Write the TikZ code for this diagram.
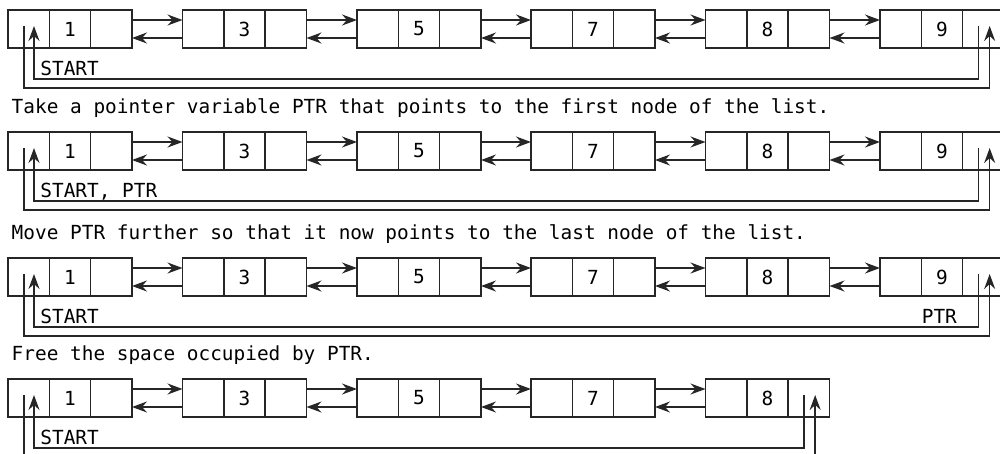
\documentclass[tikz,border=0pt]{standalone}
\usepackage{fontspec}
\setmonofont{DejaVu Sans Mono}
\usetikzlibrary{arrows.meta, positioning}
% one list node: prev cell, data cell, next cell
\newcommand{\lnode}[4]{%
  \node[cell,anchor=north west] (#1p) at (#2,#3) {};
  \node[cell,right=0pt of #1p] (#1d) {#4};
  \node[cell,right=0pt of #1d] (#1n) {};}
% next / prev links between two list nodes
\newcommand{\llink}[2]{%
  \draw[ar] ([yshift=-10pt]#1n.north east) -- ([yshift=-10pt]#2p.north west);
  \draw[ar] ([yshift=10pt]#2p.south west) -- ([yshift=10pt]#1n.south east);}
% wrap-around links between first and last list node
\newcommand{\lring}[3]{%
  \coordinate (#1a) at ([xshift=16pt,yshift=-16pt]#2p.north west);
  \coordinate (#1b) at ([xshift=26pt,yshift=-16pt]#2p.north west);
  \coordinate (#1c) at ([xshift=16pt,yshift=-16pt]#3n.north west);
  \coordinate (#1d) at ([xshift=27pt,yshift=-16pt]#3n.north west);
  \coordinate (#1i) at ([yshift=-31pt]#1b |- #2p.south);
  \coordinate (#1o) at ([yshift=-40pt]#1a |- #2p.south);
  \draw[ar] (#1c) |- (#1i) -- (#1b);
  \draw[ar] (#1a) -- (#1o) -| (#1d);}

\begin{document}
\begin{tikzpicture}[x=1pt, y=1pt, line width=1.5pt]
\tikzset{
  cell/.style={rectangle,draw=black!85,minimum width=41.33pt,minimum height=38pt,inner sep=0pt,outer sep=0pt,font=\ttfamily\fontsize{19.4}{23}\selectfont},
  ar/.style={-{Stealth[length=15pt,width=11pt,inset=5pt]},draw=black!85},
  lab/.style={anchor=base west,inner sep=0pt,font=\ttfamily\fontsize{19.4}{23}\selectfont},
  captxt/.style={anchor=base west,inner sep=0pt,font=\ttfamily\fontsize{19.4}{23}\selectfont}
}
\useasboundingbox (0,0) rectangle (1000,-453);
\clip (0,0) rectangle (1000,-453);
% ---- row 1
\lnode{r1n1}{8}{-10}{1}
\lnode{r1n2}{182.5}{-10}{3}
\lnode{r1n3}{357}{-10}{5}
\lnode{r1n4}{531}{-10}{7}
\lnode{r1n5}{705.5}{-10}{8}
\lnode{r1n6}{880}{-10}{9}
\llink{r1n1}{r1n2} \llink{r1n2}{r1n3} \llink{r1n3}{r1n4}
\llink{r1n4}{r1n5} \llink{r1n5}{r1n6}
\lring{r1}{r1n1}{r1n6}
\node[lab] (r1s) at ([xshift=11pt,yshift=-27pt]r1n1p.south) {START};
\node[captxt] (c1) at (11,-113) {Take a pointer variable PTR that points to the first node of the list.};
% ---- row 2
\lnode{r2n1}{8}{-132}{1}
\lnode{r2n2}{182.5}{-132}{3}
\lnode{r2n3}{357}{-132}{5}
\lnode{r2n4}{531}{-132}{7}
\lnode{r2n5}{705.5}{-132}{8}
\lnode{r2n6}{880}{-132}{9}
\llink{r2n1}{r2n2} \llink{r2n2}{r2n3} \llink{r2n3}{r2n4}
\llink{r2n4}{r2n5} \llink{r2n5}{r2n6}
\lring{r2}{r2n1}{r2n6}
\node[lab] (r2s) at ([xshift=11pt,yshift=-27pt]r2n1p.south) {START, PTR};
\node[captxt] (c2) at (11,-239) {Move PTR further so that it now points to the last node of the list.};
% ---- row 3
\lnode{r3n1}{8}{-258}{1}
\lnode{r3n2}{182.5}{-258}{3}
\lnode{r3n3}{357}{-258}{5}
\lnode{r3n4}{531}{-258}{7}
\lnode{r3n5}{705.5}{-258}{8}
\lnode{r3n6}{880}{-258}{9}
\llink{r3n1}{r3n2} \llink{r3n2}{r3n3} \llink{r3n3}{r3n4}
\llink{r3n4}{r3n5} \llink{r3n5}{r3n6}
\lring{r3}{r3n1}{r3n6}
\node[lab] (r3s) at ([xshift=11pt,yshift=-27pt]r3n1p.south) {START};
\node[lab,anchor=base east] (r3p) at ([xshift=-5pt,yshift=-27pt]r3n6n.south west) {PTR};
\node[captxt] (c3) at (11,-360) {Free the space occupied by PTR.};
% ---- row 4
\lnode{r4n1}{8}{-379}{1}
\lnode{r4n2}{182.5}{-379}{3}
\lnode{r4n3}{357}{-379}{5}
\lnode{r4n4}{531}{-379}{7}
\lnode{r4n5}{705.5}{-379}{8}
\llink{r4n1}{r4n2} \llink{r4n2}{r4n3} \llink{r4n3}{r4n4}
\llink{r4n4}{r4n5}
\lring{r4}{r4n1}{r4n5}
\node[lab] (r4s) at ([xshift=11pt,yshift=-27pt]r4n1p.south) {START};
\end{tikzpicture}
\end{document}
